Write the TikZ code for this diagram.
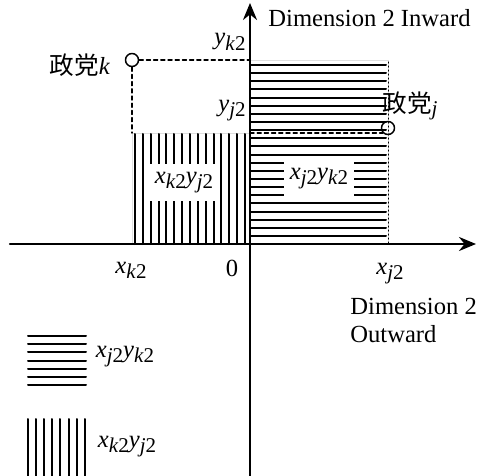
\documentclass[tikz,border=0pt]{standalone}
\usepackage{fontspec}
\setmainfont{Liberation Serif}[ItalicFont={Liberation Serif Italic}]
\newfontfamily\cjk{Noto Sans CJK SC}
\usetikzlibrary{arrows.meta}
\newcommand\sxy[2]{\textit{#1}\raisebox{-.45ex}{\fontsize{10.5}{12}\selectfont\textit{#2}2}}
\tikzset{
  axis/.style={line width=1.25pt,-{Stealth[length=8.5pt,width=7pt]}},
  guide/.style={line width=0.7pt,dash pattern=on 2pt off 1.6pt},
  hatch/.style={line width=1pt},
  party/.style={circle,draw,line width=0.75pt,minimum size=6.5pt,inner sep=0pt},
  lbl/.style={inner sep=1pt,font=\fontsize{12.3}{14}\selectfont},
  blank/.style={lbl,fill=white,minimum width=35pt,minimum height=18.5pt}
}
\begin{document}
\begin{tikzpicture}[x=0.5pt,y=-0.5pt,line cap=round,line join=round]
    \useasboundingbox (0,0) rectangle (477,476);
    % shaded areas
    \draw[gray!25,line width=0.4pt] (250,60) rectangle (388,244);
    \draw[gray!25,line width=0.4pt] (132,133) rectangle (250,244);
    \foreach \i in {0,...,21}{
      \draw[hatch] (250,{65+8.14*\i}) -- (386,{65+8.14*\i});
    }
    \foreach \i in {0,...,14}{
      \draw[hatch] ({135+7.85*\i},134) -- ({135+7.85*\i},244);
    }
    \draw[line width=0.5pt,dash pattern=on 0.6pt off 1.4pt] (388,62) -- (388,244);
    \node[blank] (bk) at (184,183) {\sxy{x}{k}\sxy{y}{j}};
    \node[blank] (bj) at (319,179) {\sxy{x}{j}\sxy{y}{k}};
    % axes
    \coordinate (xl) at (10,244);
    \coordinate (xr) at (476,244);
    \coordinate (yb) at (250,476);
    \coordinate (yt) at (250,3);
    \draw[axis] (xl) -- (xr);
    \draw[axis] (yb) -- (yt);
    % parties
    \node[party] (pk) at (132,60) {};
    \node[party] (pj) at (388,128) {};
    \coordinate (ky) at (250,60);
    \coordinate (kx) at (132,133);
    \coordinate (jy) at (250,133);
    \draw[guide] (pk) -- (ky);
    \draw[guide] (pk) -- (kx);
    \draw[guide] (jy) -- (jy -| pj.south west);
    \node[lbl] (nk) at (80,65) {{\cjk 政党}\textit{k}};
    \node[lbl] (nj) at (410,106) {{\cjk 政党}\raisebox{-.3ex}{\fontsize{10.5}{12}\selectfont\textit{j}}};
    % tick labels
    \node[lbl] (tyk) at (230,42) {\sxy{y}{k}};
    \node[lbl] (tyj) at (232,111) {\sxy{y}{j}};
    \node[lbl] (txk) at (131,270) {\sxy{x}{k}};
    \node[lbl] (t0) at (232,268) {0};
    \node[lbl] (txj) at (390,274) {\sxy{x}{j}};
    \node[lbl,anchor=west] (din) at (266,18) {Dimension 2 Inward};
    \node[lbl,anchor=north west,align=left] (dout) at (348,296)
      {Dimension 2\\Outward};
    % legend
    \foreach \i in {0,...,6}{
      \draw[hatch] (28,{336+8.2*\i}) -- (86,{336+8.2*\i});
    }
    \foreach \i in {0,...,7}{
      \draw[hatch] ({27.5+8.2*\i},419) -- ({27.5+8.2*\i},476);
    }
    \node[lbl] (lh) at (125,357) {\sxy{x}{j}\sxy{y}{k}};
    \node[lbl] (lv) at (127,447) {\sxy{x}{k}\sxy{y}{j}};
  \end{tikzpicture}
\end{document}
